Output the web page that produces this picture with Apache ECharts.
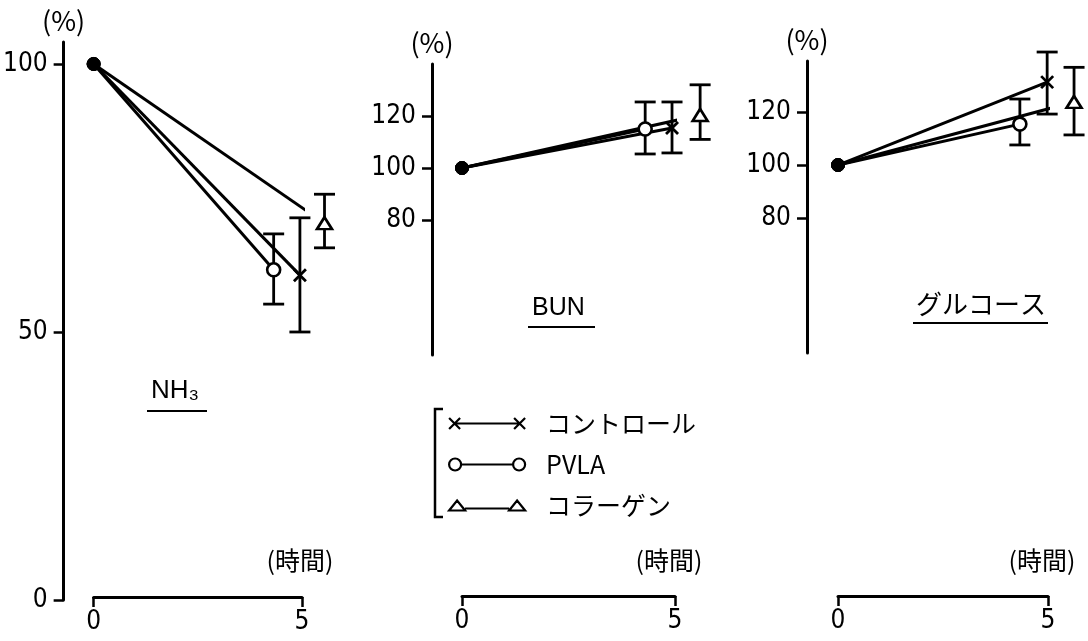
<!DOCTYPE html>
<html>
<head>
<meta charset="utf-8">
<script src="https://cdn.jsdelivr.net/npm/echarts@6/dist/echarts.min.js"></script>
<style>html,body{margin:0;padding:0;background:#fff}#c{width:1088px;height:641px}</style>
</head>
<body>
<div id="c"></div>
<script>
// ---- data ----
const hours = [0, 5];
const groups = ['コントロール', 'PVLA', 'コラーゲン'];
const panels = ['NH₃', 'BUN', 'グルコース'];
const baselinePct = 100;
const nh3Ticks = [0, 50, 100];
const pctTicks = [80, 100, 120];
// x position (h) of each group's 5-h point, mean, lower and upper error-bar ends (%)
const nh3Pos = [4.95, 4.32, 5.54];
const nh3Mean = [60.6, 61.6, 70.3];
const nh3Low = [50.0, 55.2, 65.7];
const nh3High = [71.3, 68.3, 75.7];
const bunPos = [4.93, 4.30, 5.59];
const bunMean = [115.4, 115.0, 120.4];
const bunLow = [105.8, 105.4, 111.0];
const bunHigh = [125.4, 125.4, 132.0];
const gluPos = [4.98, 4.33, 5.62];
const gluMean = [131.4, 115.5, 123.9];
const gluLow = [119.3, 107.6, 111.4];
const gluHigh = [142.8, 125.0, 137.0];

// ---- styling ----
const numFont = "'Liberation Sans Narrow','DejaVu Sans Condensed',sans-serif";
const jpFont = "'Noto Sans CJK JP',sans-serif";
const crossPath = 'path://M0,0L10,10M0,10L10,0';
const markerSymbols = [crossPath, 'circle', 'triangle'];
const markerSizes = [12, 13, [15, 12]];
const legendIcons = [
  'path://M0,1L11,12M0,12L11,1M5,6.5L70,6.5M65,1L76,12M65,12L76,1',
  'path://M0,7A6,6,0,1,0,12,7A6,6,0,1,0,0,7ZM12,7L64,7M64,7A6,6,0,1,0,76,7A6,6,0,1,0,64,7Z',
  'path://M0,13L8,3L16,13ZM16,11L60,11M60,13L68,3L76,13Z'
];

const panelData = [
  {pos: nh3Pos, mean: nh3Mean, low: nh3Low, high: nh3High, ticks: nh3Ticks},
  {pos: bunPos, mean: bunMean, low: bunLow, high: bunHigh, ticks: pctTicks},
  {pos: gluPos, mean: gluMean, low: gluLow, high: gluHigh, ticks: pctTicks}
];
const gridBoxes = [
  {left: 90, top: 42, width: 212, height: 558},
  {left: 462, top: 64, width: 213, height: 291},
  {left: 838, top: 61, width: 210, height: 292}
];
const yRanges = [[0, 104.1], [28.1, 140], [28.8, 139.4]];
const xOffsets = [-3, 241, 243];
const yOffsets = [30, 30, 31];

const grid = gridBoxes.map(g => Object.assign({containLabel: false}, g));
const xAxis = panelData.map((p, i) => ({
  type: 'value', gridIndex: i, min: hours[0], max: hours[1], interval: 5,
  offset: xOffsets[i],
  axisLine: {show: true, onZero: false, lineStyle: {color: '#000', width: 3}},
  axisTick: {show: true, length: 10, lineStyle: {color: '#000', width: 2.5}},
  axisLabel: {color: '#000', fontSize: 26, fontFamily: numFont, margin: 12},
  splitLine: {show: false}
}));
const yAxis = panelData.map((p, i) => ({
  type: 'value', gridIndex: i, min: yRanges[i][0], max: yRanges[i][1],
  offset: yOffsets[i],
  name: '(%)', nameLocation: 'end', nameGap: 8,
  nameTextStyle: {color: '#000', fontSize: 27, fontFamily: jpFont},
  axisLine: {show: true, onZero: false, lineStyle: {color: '#000', width: 3}},
  axisTick: {show: true, length: 10, customValues: p.ticks, lineStyle: {color: '#000', width: 2.5}},
  axisLabel: {color: '#000', fontSize: 26, fontFamily: numFont, margin: 16, customValues: p.ticks},
  splitLine: {show: false}
}));

const series = [];
panelData.forEach((p, pi) => {
  // error bars
  series.push({
    type: 'custom', xAxisIndex: pi, yAxisIndex: pi, z: 1, clip: false,
    encode: {x: 0, y: [1, 2]},
    data: groups.map((g, gi) => [p.pos[gi], p.low[gi], p.high[gi]]),
    renderItem: function (params, api) {
      const a = api.coord([api.value(0), api.value(1)]);
      const b = api.coord([api.value(0), api.value(2)]);
      const w = 10.5;
      const st = {stroke: '#000', lineWidth: 2.8};
      return {type: 'group', children: [
        {type: 'line', shape: {x1: a[0], y1: a[1], x2: b[0], y2: b[1]}, style: st},
        {type: 'line', shape: {x1: a[0] - w, y1: a[1], x2: a[0] + w, y2: a[1]}, style: st},
        {type: 'line', shape: {x1: b[0] - w, y1: b[1], x2: b[0] + w, y2: b[1]}, style: st}
      ]};
    }
  });
  groups.forEach((g, gi) => {
    const endItem = {value: [p.pos[gi], p.mean[gi]], symbol: markerSymbols[gi], symbolSize: markerSizes[gi]};
    if (gi === 0) endItem.itemStyle = {color: '#000', borderColor: '#000', borderWidth: 2.8};
    series.push({
      type: 'line', name: g, xAxisIndex: pi, yAxisIndex: pi, z: 3, clip: false,
      symbol: 'circle',
      lineStyle: {color: '#000', width: 3},
      itemStyle: {color: '#fff', borderColor: '#000', borderWidth: 2.6},
      emphasis: {disabled: true},
      data: [
        {value: [hours[0], baselinePct], symbol: 'circle', symbolSize: 13, itemStyle: {color: '#000', borderColor: '#000', borderWidth: 1}},
        endItem
      ]
    });
  });
});

const labelPos = [
  {x: 151, y: 391, ux1: 147, ux2: 207, uy: 411, font: "'Liberation Sans',sans-serif", size: 26},
  {x: 532, y: 308, ux1: 528, ux2: 595, uy: 327, font: "'Liberation Sans',sans-serif", size: 25},
  {x: 916, y: 304, ux1: 913, ux2: 1048, uy: 323, font: jpFont, size: 26}
];
const timeLabelX = [300, 669, 1042];
const graphic = [];
panels.forEach((name, i) => {
  const L = labelPos[i];
  graphic.push({type: 'text', x: L.x, y: L.y,
    style: {text: name, fill: '#000', font: L.size + 'px ' + L.font, verticalAlign: 'middle'}});
  graphic.push({type: 'line', shape: {x1: L.ux1, y1: L.uy, x2: L.ux2, y2: L.uy}, style: {stroke: '#000', lineWidth: 2}});
  graphic.push({type: 'text', x: timeLabelX[i], y: 560,
    style: {text: '(時間)', fill: '#000', font: '25px ' + jpFont, align: 'center', verticalAlign: 'middle'}});
});
graphic.push({type: 'polyline', shape: {points: [[443, 409], [435, 409], [435, 517], [443, 517]]},
  style: {stroke: '#000', lineWidth: 2.5, fill: null}});

const option = {
  animation: false,
  backgroundColor: '#fff',
  grid, xAxis, yAxis, series, graphic,
  legend: {
    orient: 'vertical', left: 448, top: 411, padding: 0, itemGap: 16,
    itemWidth: 76, itemHeight: 14, selectedMode: false,
    textStyle: {color: '#000', fontSize: 25, lineHeight: 24, fontFamily: jpFont, padding: [0, 0, 0, 16]},
    data: groups.map((g, i) => ({name: g, icon: legendIcons[i],
      itemStyle: {color: '#fff', borderColor: '#000', borderWidth: 2.2}}))
  }
};
const chart = echarts.init(document.getElementById('c'));
chart.setOption(option);
</script>
</body>
</html>
